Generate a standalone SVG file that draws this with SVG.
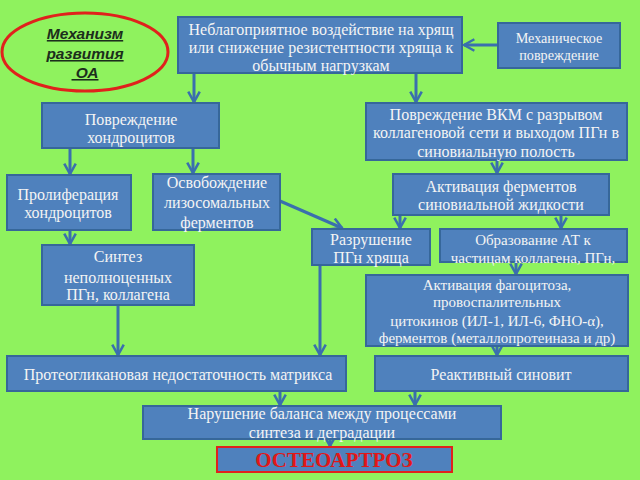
<svg xmlns="http://www.w3.org/2000/svg" width="640" height="480" viewBox="0 0 640 480">
<defs>
<style>
.bx{fill:#4f81bd;stroke:#36679a;stroke-width:2}
.t{font-family:"Liberation Serif","Times New Roman",serif;font-size:16px;fill:#f4f4f4;text-anchor:middle}
.s{font-size:15px}
.xs{font-size:14.2px}
.c{stroke:#3a6fae;stroke-width:3;fill:none}
.e{font-family:"Liberation Sans",Arial,sans-serif;font-size:15.5px;font-weight:bold;font-style:italic;text-decoration:underline;fill:#1c2e1c;text-anchor:middle}
</style>
<marker id="ah" viewBox="0 0 12 12" refX="10" refY="6" markerWidth="4.6" markerHeight="4.6" orient="auto" markerUnits="strokeWidth">
<path d="M1,1 L10,6 L1,11" fill="none" stroke="#3a6fae" stroke-width="2.2"/>
</marker>
</defs>
<rect width="640" height="480" fill="#8ff25e"/>
<g id="title">
<ellipse cx="85" cy="52" rx="83" ry="39" fill="#8ff25e" stroke="#e0221c" stroke-width="3"/>
<text class="e" x="85" y="39">Механизм</text>
<text class="e" x="85" y="59">развития</text>
<text class="e" x="85" y="78">&#160;ОА</text>
</g>
<g id="connectors">
<line class="c" x1="498" y1="45" x2="464" y2="45" marker-end="url(#ah)"/>
<line class="c" x1="194" y1="73" x2="194" y2="102" marker-end="url(#ah)"/>
<line class="c" x1="416" y1="73" x2="416" y2="102" marker-end="url(#ah)"/>
<line class="c" x1="70" y1="148" x2="70" y2="174" marker-end="url(#ah)"/>
<line class="c" x1="193" y1="148" x2="193" y2="173" marker-end="url(#ah)"/>
<line class="c" x1="70" y1="230" x2="70" y2="244" marker-end="url(#ah)"/>
<line class="c" x1="497" y1="160" x2="497" y2="173" marker-end="url(#ah)"/>
<line class="c" x1="280" y1="201" x2="342" y2="228" marker-end="url(#ah)"/>
<line class="c" x1="400" y1="215" x2="400" y2="228" marker-end="url(#ah)"/>
<line class="c" x1="561" y1="215" x2="561" y2="228" marker-end="url(#ah)"/>
<line class="c" x1="516" y1="262" x2="516" y2="274" marker-end="url(#ah)"/>
<line class="c" x1="320" y1="265" x2="320" y2="355" marker-end="url(#ah)"/>
<line class="c" x1="118" y1="305" x2="118" y2="355" marker-end="url(#ah)"/>
<line class="c" x1="497" y1="346" x2="497" y2="355" marker-end="url(#ah)"/>
<line class="c" x1="280" y1="391" x2="280" y2="405" marker-end="url(#ah)"/>
<line class="c" x1="415" y1="391" x2="415" y2="405" marker-end="url(#ah)"/>
<line class="c" x1="330" y1="439" x2="330" y2="446" marker-end="url(#ah)"/>
</g>
<g id="n1"><rect class="bx" x="178" y="17" width="284" height="56"/>
<text class="t" x="321" y="35">Неблагоприятное воздействие на хрящ</text>
<text class="t" x="321" y="53">или снижение резистентности хряща к</text>
<text class="t" x="321" y="71">обычным нагрузкам</text></g>
<g id="n2"><rect class="bx" x="498" y="23" width="122" height="45"/>
<text class="t xs" x="559" y="43">Механическое</text>
<text class="t xs" x="559" y="60">повреждение</text></g>
<g id="n3"><rect class="bx" x="42" y="103" width="177" height="45"/>
<text class="t" x="131" y="125">Повреждение</text>
<text class="t" x="131" y="143">хондроцитов</text></g>
<g id="n4"><rect class="bx" x="366" y="103" width="261" height="57"/>
<text class="t" x="496" y="120">Повреждение ВКМ с разрывом</text>
<text class="t" x="496" y="138">коллагеновой сети и выходом ПГн в</text>
<text class="t" x="496" y="157">синовиальную полость</text></g>
<g id="n5"><rect class="bx" x="7" y="175" width="124" height="55"/>
<text class="t" x="68" y="200">Пролиферация</text>
<text class="t" x="68" y="218">хондроцитов</text></g>
<g id="n6"><rect class="bx" x="153" y="174" width="127" height="56"/>
<text class="t" x="217" y="188">Освобождение</text>
<text class="t" x="217" y="208">лизосомальных</text>
<text class="t" x="217" y="228">ферментов</text></g>
<g id="n7"><rect class="bx" x="393" y="174" width="216" height="41"/>
<text class="t" x="501" y="192">Активация ферментов</text>
<text class="t" x="501" y="210">синовиальной жидкости</text></g>
<g id="n8"><rect class="bx" x="42" y="245" width="152" height="60"/>
<text class="t" x="118" y="262">Синтез</text>
<text class="t" x="118" y="283">неполноценных</text>
<text class="t" x="118" y="300">ПГн, коллагена</text></g>
<g id="n9"><rect class="bx" x="312" y="229" width="118" height="36"/>
<text class="t" x="371" y="245">Разрушение</text>
<text class="t" x="371" y="263">ПГн хряща</text></g>
<g id="n10"><rect class="bx" x="440" y="229" width="187" height="33"/>
<text class="t s" x="533" y="245">Образование АТ к</text>
<text class="t s" x="533" y="263">частицам коллагена, ПГн,</text></g>
<g id="n11"><rect class="bx" x="366" y="275" width="262" height="71"/>
<text class="t s" x="497" y="290">Активация фагоцитоза,</text>
<text class="t s" x="497" y="307">провоспалительных</text>
<text class="t s" x="497" y="326">цитокинов (ИЛ-1, ИЛ-6, ФНО-α),</text>
<text class="t s" x="497" y="343">ферментов (металлопротеиназа и др)</text></g>
<g id="n12"><rect class="bx" x="7" y="356" width="339" height="35"/>
<text class="t" x="178" y="380">Протеогликановая недостаточность матрикса</text></g>
<g id="n13"><rect class="bx" x="375" y="356" width="253" height="35"/>
<text class="t" x="501" y="380">Реактивный синовит</text></g>
<g id="n14"><rect class="bx" x="143" y="406" width="358" height="33"/>
<text class="t" x="322" y="419">Нарушение баланса между процессами</text>
<text class="t" x="322" y="438">синтеза и деградации</text></g>
<g id="n15"><rect x="217" y="447" width="235" height="25" fill="#4f81bd" stroke="#e0221c" stroke-width="2"/>
<text x="334" y="467" font-family="Liberation Serif,Times New Roman,serif" font-size="21" font-weight="bold" fill="#e01818" text-anchor="middle">ОСТЕОАРТРОЗ</text></g>
</svg>
